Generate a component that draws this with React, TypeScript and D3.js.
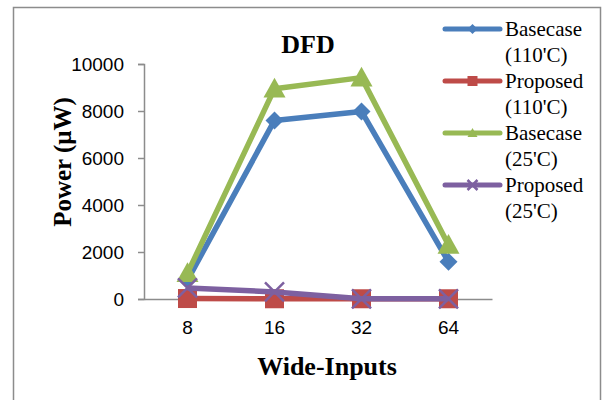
import React, { useEffect, useRef } from "react";
import * as d3 from "d3";

// categorias e séries
const categories = ["8", "16", "32", "64"];
const basecase110 = [800, 7600, 7980, 1580];
const proposed110 = [20, 10, 10, 10];
const basecase25 = [1100, 8950, 9420, 2300];
const proposed25 = [470, 300, 10, 10];
const yTicks = [0, 2000, 4000, 6000, 8000, 10000];
const seriesNames = [
  ["Basecase", "(110'C)"],
  ["Proposed", "(110'C)"],
  ["Basecase", "(25'C)"],
  ["Proposed", "(25'C)"],
];

const App = () => {
  const svgRef = useRef<SVGSVGElement | null>(null);

  useEffect(() => {
    const width = 602;
    const height = 400;
    const svg = d3.select(svgRef.current).attr("width", width).attr("height", height);
    svg.selectAll("*").remove();

    const series = [
      { name: seriesNames[0], values: basecase110, color: "#4a7ebb", marker: "diamond" },
      { name: seriesNames[1], values: proposed110, color: "#be4b48", marker: "square" },
      { name: seriesNames[2], values: basecase25, color: "#98b954", marker: "triangle" },
      { name: seriesNames[3], values: proposed25, color: "#7d60a0", marker: "x" },
    ];

    // moldura
    svg
      .append("rect")
      .attr("x", 13.5)
      .attr("y", 7.5)
      .attr("width", 587)
      .attr("height", 400)
      .attr("fill", "white")
      .attr("stroke", "#8c8c8c")
      .attr("stroke-width", 1.5);

    const left = 144;
    const right = 492;
    const top = 64;
    const bottom = 299;

    const x = d3.scaleBand().domain(categories).range([left, right]);
    const y = d3.scaleLinear().domain([0, 10000]).range([bottom, top]);
    const cx = (c: string) => (x(c) as number) + x.bandwidth() / 2;

    const tickFont = "'Liberation Sans', Arial, sans-serif";
    const serif = "'Liberation Serif', 'Times New Roman', serif";

    // eixo Y
    const yAxis = svg
      .append("g")
      .attr("transform", `translate(${left},0)`)
      .call(d3.axisLeft(y).tickValues(yTicks).tickSize(6).tickPadding(14).tickFormat(d3.format("d")));
    yAxis.select(".domain").attr("stroke", "#8c8c8c").attr("stroke-width", 1.5);
    yAxis.selectAll(".tick line").attr("stroke", "#8c8c8c").attr("stroke-width", 1.5);
    yAxis
      .selectAll("text")
      .style("font-family", tickFont)
      .style("font-size", "19px")
      .attr("fill", "#000");

    // eixo X
    const xAxis = svg
      .append("g")
      .attr("transform", `translate(0,${bottom})`)
      .call(d3.axisBottom(x).tickSize(0).tickPadding(22));
    xAxis.select(".domain").attr("stroke", "#8c8c8c").attr("stroke-width", 1.5);
    xAxis
      .selectAll("text")
      .style("font-family", tickFont)
      .style("font-size", "19px")
      .attr("fill", "#000");

    const line = d3
      .line<number>()
      .x((_, i) => cx(categories[i]))
      .y((d) => y(d));

    const drawMarker = (g: any, type: string, color: string, px: number, py: number, s: number) => {
      if (type === "diamond") {
        g.append("path")
          .attr("d", `M${px},${py - s}L${px + s},${py}L${px},${py + s}L${px - s},${py}Z`)
          .attr("fill", color);
      } else if (type === "square") {
        g.append("rect")
          .attr("x", px - s)
          .attr("y", py - s)
          .attr("width", 2 * s)
          .attr("height", 2 * s)
          .attr("fill", color);
      } else if (type === "triangle") {
        g.append("path")
          .attr("d", `M${px},${py - s}L${px + s},${py + s * 0.8}L${px - s},${py + s * 0.8}Z`)
          .attr("fill", color);
      } else {
        g.append("path")
          .attr("d", `M${px - s},${py - s}L${px + s},${py + s}M${px - s},${py + s}L${px + s},${py - s}`)
          .attr("stroke", color)
          .attr("stroke-width", 2.5);
      }
    };

    const sizes: Record<string, number> = { diamond: 9, square: 9.5, triangle: 11, x: 9.5 };

    series.forEach((s) => {
      const g = svg.append("g");
      g.append("path")
        .datum(s.values)
        .attr("d", line)
        .attr("fill", "none")
        .attr("stroke", s.color)
        .attr("stroke-width", 5.5)
        .attr("stroke-linejoin", "round");
      s.values.forEach((v, i) => drawMarker(g, s.marker, s.color, cx(categories[i]), y(v), sizes[s.marker]));
    });

    // legenda
    const legend = svg.append("g");
    series.forEach((s, i) => {
      const ly = 29 + i * 52;
      legend
        .append("line")
        .attr("x1", 445)
        .attr("x2", 500)
        .attr("y1", ly)
        .attr("y2", ly)
        .attr("stroke", s.color)
        .attr("stroke-width", 5)
        .attr("stroke-linecap", "round");
      drawMarker(legend, s.marker, s.color, 472.5, ly, 5);
      s.name.forEach((t, j) => {
        legend
          .append("text")
          .attr("x", 505)
          .attr("y", ly + 7 + j * 26)
          .style("font-family", serif)
          .style("font-size", "21px")
          .text(t);
      });
    });

    // títulos
    svg
      .append("text")
      .attr("x", 308)
      .attr("y", 53)
      .attr("text-anchor", "middle")
      .style("font-family", serif)
      .style("font-size", "26px")
      .style("font-weight", "bold")
      .text("DFD");

    svg
      .append("text")
      .attr("transform", "translate(71,162) rotate(-90)")
      .attr("text-anchor", "middle")
      .style("font-family", serif)
      .style("font-size", "25px")
      .style("font-weight", "bold")
      .text("Power (μW)");

    svg
      .append("text")
      .attr("x", 327)
      .attr("y", 375)
      .attr("text-anchor", "middle")
      .style("font-family", serif)
      .style("font-size", "26px")
      .style("font-weight", "bold")
      .text("Wide-Inputs");
  }, []);

  return (
    <svg
      ref={svgRef}
      style={{ position: "absolute", left: 0, top: 0, display: "block" }}
    ></svg>
  );
};

export default App;
